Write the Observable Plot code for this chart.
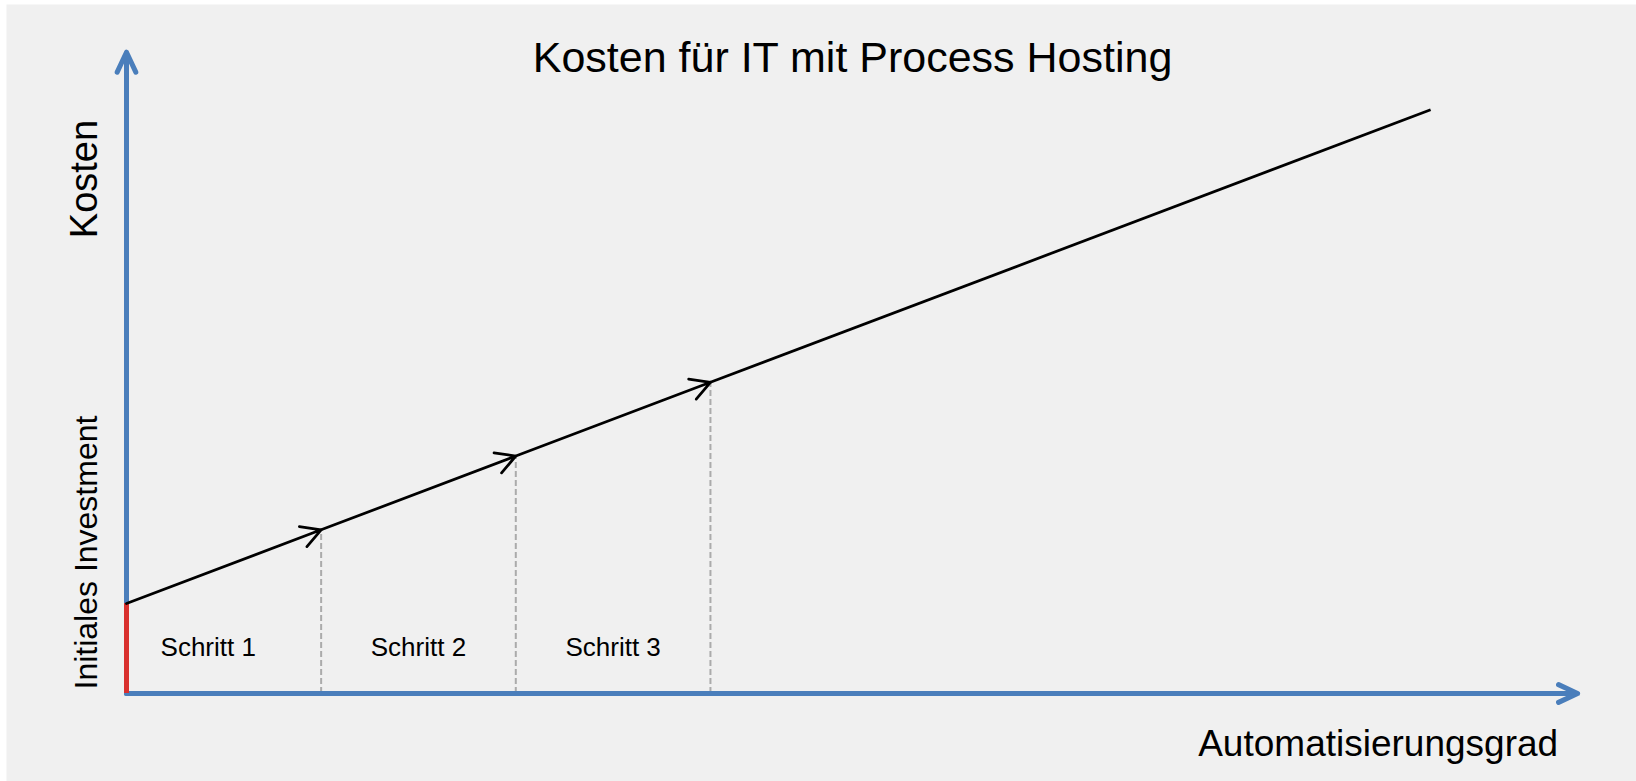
<!DOCTYPE html>
<html>
<head>
<meta charset="utf-8">
<script src="https://cdn.jsdelivr.net/npm/d3@7"></script>
<script src="https://cdn.jsdelivr.net/npm/@observablehq/plot@0.6"></script>
<style>
  html, body { margin: 0; padding: 0; background: #ffffff; }
  #chart svg { display: block; }
</style>
</head>
<body>
<div id="chart"></div>
<script>
// ---- data ----
const titleText = "Kosten für IT mit Process Hosting";
const xLabel = "Automatisierungsgrad";
const yLabel = "Kosten";
const investLabel = "Initiales Investment";
const stepLabels = ["Schritt 1", "Schritt 2", "Schritt 3"];
const stepBounds = [0, 1, 2, 3];              // Automatisierungsgrad at each step boundary
const stepCost = [1.0, 1.82, 2.64, 3.46];     // cost reached at each boundary
const initialInvestment = 1.0;
const lineEnd = [6.7, 6.49];                  // end of the cost line
const xAxisEnd = 7.455;
const yAxisEnd = 7.13;

// ---- derived tables ----
const stepArrows = stepLabels.map((s, i) => ({
  x1: stepBounds[i], y1: stepCost[i], x2: stepBounds[i + 1], y2: stepCost[i + 1]
}));
const tail = [{x1: stepBounds[3], y1: stepCost[3], x2: lineEnd[0], y2: lineEnd[1]}];
const dividers = stepBounds.slice(1).map((b, i) => ({x: b, y: stepCost[i + 1]}));
const labelShift = [-0.08, 0, 0];
const stepText = stepLabels.map((s, i) => ({label: s, x: (stepBounds[i] + stepBounds[i + 1]) / 2 + labelShift[i]}));

const blue = "#4a7ebb";
const red = "#d9302e";
const font = "'Liberation Sans', Arial, Helvetica, sans-serif";

const chart = Plot.plot({
  width: 1636,
  height: 781,
  marginLeft: 6,
  marginTop: 4,
  marginRight: 0,
  marginBottom: 0,
  x: {domain: [0, 7.47], range: [126, 1580], axis: null},
  y: {domain: [0, 7.16], range: [693, 49], axis: null},
  style: {background: "#ffffff", fontFamily: font, overflow: "visible"},
  marks: [
    Plot.frame({fill: "#f0f0f0", stroke: "none"}),
    // dashed step dividers
    Plot.ruleX(dividers, {x: "x", y1: 0, y2: "y", stroke: "#ababab", strokeWidth: 2, strokeDasharray: "6,3"}),
    // axes as arrows
    Plot.arrow([{x1: 0, y1: 0, x2: xAxisEnd, y2: 0}], {
      x1: "x1", y1: "y1", x2: "x2", y2: "y2",
      stroke: blue, strokeWidth: 5, headAngle: 50, headLength: 6.3,
      strokeLinecap: "round", strokeLinejoin: "round"
    }),
    Plot.arrow([{x1: 0, y1: 0, x2: 0, y2: yAxisEnd}], {
      x1: "x1", y1: "y1", x2: "x2", y2: "y2",
      stroke: blue, strokeWidth: 5, headAngle: 50, headLength: 6.6,
      strokeLinecap: "round", strokeLinejoin: "round"
    }),
    // initial investment
    Plot.ruleX([0], {y1: 0, y2: initialInvestment, stroke: red, strokeWidth: 5}),
    // cost line with step arrows
    Plot.link(tail, {x1: "x1", y1: "y1", x2: "x2", y2: "y2", stroke: "#000", strokeWidth: 2.75}),
    Plot.arrow(stepArrows, {
      x1: "x1", y1: "y1", x2: "x2", y2: "y2",
      stroke: "#000", strokeWidth: 2.75, headAngle: 58, headLength: 12,
      strokeLinecap: "round", strokeLinejoin: "round"
    }),
    // texts
    Plot.text([titleText], {x: 3.73, y: 6.91, text: d => d, fontSize: 43, textAnchor: "middle", lineAnchor: "bottom", fill: "#000"}),
    Plot.text([xLabel], {x: 7.355, y: -0.69, text: d => d, fontSize: 37, textAnchor: "end", lineAnchor: "bottom", fill: "#000"}),
    Plot.text([yLabel], {x: -0.154, y: 5.72, text: d => d, fontSize: 38, rotate: -90, textAnchor: "middle", lineAnchor: "bottom", fill: "#000"}),
    Plot.text([investLabel], {x: -0.154, y: 1.567, text: d => d, fontSize: 32, rotate: -90, textAnchor: "middle", lineAnchor: "bottom", fill: "#000"}),
    Plot.text(stepText, {x: "x", y: 0.42, text: "label", fontSize: 26, textAnchor: "middle", lineAnchor: "bottom", fill: "#000"})
  ]
});
document.getElementById("chart").appendChild(chart);
</script>
</body>
</html>
